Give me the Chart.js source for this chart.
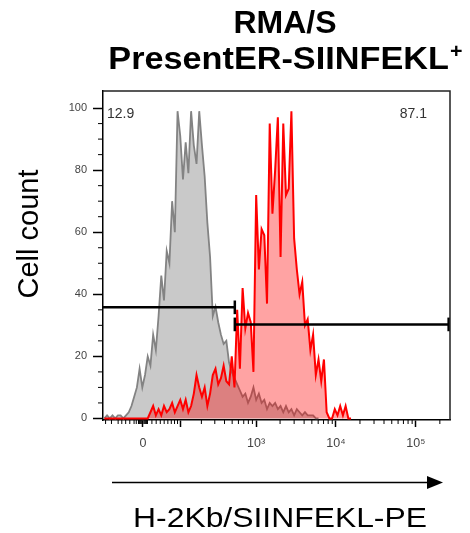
<!DOCTYPE html>
<html>
<head>
<meta charset="utf-8">
<script src="https://cdn.jsdelivr.net/npm/chart.js"></script>
<style>
  html, body { margin: 0; padding: 0; background: #fff; }
  #wrap { width: 470px; height: 533px; }
</style>
</head>
<body>
<div id="wrap"><canvas id="histo" width="470" height="533"></canvas></div>
<script>
// histogram counts per bin (128 bins over 1024 display channels)
const binWidth = 8;
const greyCounts = [
    0, 1, 0, 1, 0, 1, 1, 0, 1, 2,
    4, 7, 10, 16, 10, 14, 20, 17, 27, 22,
    33, 46, 38, 54, 50, 70, 60, 99, 91, 77,
    89, 79, 99, 88, 82, 99, 88, 78, 63, 52,
    33, 36, 31, 27, 24, 25, 18, 15, 13, 11,
    9, 7, 8, 5, 7, 10, 6, 8, 5, 6,
    3, 5, 4, 5, 3, 4, 2, 4, 2, 3,
    1, 3, 2, 1, 2, 1, 1, 1, 0, 0
];
const redCounts = [
    0, 0, 0, 0, 0, 0, 0, 0, 0, 0,
    0, 0, 0, 0, 0, 0, 0, 2, 4, 1,
    3, 1, 4, 2, 3, 5, 2, 4, 6, 3,
    6, 2, 4, 8, 14, 10, 7, 10, 4, 8,
    14, 16, 11, 13, 17, 12, 11, 20, 10, 35,
    16, 42, 29, 34, 31, 15, 72, 48, 61, 59,
    37, 95, 66, 80, 97, 52, 95, 72, 74, 99,
    58, 48, 40, 44, 30, 32, 22, 27, 14, 19,
    12, 19, 2, 0, 0, 3, 1, 4, 1, 4,
    0, 0
];

// gates (display channels) and their percentages
const gateNeg = [0, 389];
const gatePos = [389, 1020];
const gateLevels = [35.8, 30.3];
const gateLabels = ['12.9', '87.1'];

// axis ticks
const xTickValues = [0, 100, 1000, 10000, 100000];
const xTickLabels = ['0', '', '10³', '10⁴', '10⁵'];
const xMinorValues = [-100, -80, -60, -50, -40, -30, -20, -15, -10, -8, -6, -4, -2,
    2, 4, 6, 8, 10, 20, 30, 40, 50, 60, 70, 80, 90,
    200, 300, 400, 500, 600, 700, 800, 900,
    2000, 3000, 4000, 5000, 6000, 7000, 8000, 9000,
    20000, 30000, 40000, 50000, 60000, 70000, 80000, 90000, 200000];
const yTickValues = [0, 20, 40, 60, 80, 100];
const yMinorValues = [5, 10, 15, 25, 30, 35, 45, 50, 55, 65, 70, 75, 85, 90, 95];

const titleLines = ['RMA/S', 'PresentER-SIINFEKL'];
const xTitle = 'H-2Kb/SIINFEKL-PE';
const yTitle = 'Cell count';

const FONT = "'Liberation Sans', Arial, sans-serif";

// biexponential-like display transform
function toChannel(v) {
    return 118 + 102.4 * Math.asinh(v / 77);
}

function toPoints(counts) {
    return counts.map((c, i) => ({ x: i * binWidth + binWidth / 2, y: c }));
}

function gateLine(xs, level) {
    return {
        data: [{ x: xs[0], y: level }, { x: xs[1], y: level }],
        borderColor: '#000', borderWidth: 2.5, pointRadius: 0, fill: false
    };
}

function gateCap(x, level) {
    return {
        data: [{ x: x, y: level - 2.2 }, { x: x, y: level + 2.2 }],
        borderColor: '#000', borderWidth: 2.5, pointRadius: 0, fill: false
    };
}

const extras = {
    id: 'extras',
    afterDraw(chart) {
        const ctx = chart.ctx;
        const area = chart.chartArea;
        const xs = chart.scales.x;
        const ys = chart.scales.y;
        ctx.save();

        // frame top / right
        ctx.strokeStyle = '#222';
        ctx.lineWidth = 1.5;
        ctx.beginPath();
        ctx.moveTo(area.left, area.top);
        ctx.lineTo(area.right, area.top);
        ctx.lineTo(area.right, area.bottom);
        ctx.stroke();

        // minor ticks
        ctx.strokeStyle = '#000';
        ctx.lineWidth = 1;
        ctx.beginPath();
        yMinorValues.forEach(v => {
            const py = ys.getPixelForValue(v);
            ctx.moveTo(area.left - 5, py);
            ctx.lineTo(area.left, py);
        });
        xMinorValues.forEach(v => {
            const px = xs.getPixelForValue(toChannel(v));
            if (px < area.left || px > area.right) return;
            ctx.moveTo(px, area.bottom);
            ctx.lineTo(px, area.bottom + 4);
        });
        ctx.stroke();

        // gate percentages
        ctx.fillStyle = '#333';
        ctx.font = '14px ' + FONT;
        ctx.textBaseline = 'alphabetic';
        ctx.textAlign = 'left';
        ctx.fillText(gateLabels[0], area.left + 4, area.top + 27);
        ctx.textAlign = 'right';
        ctx.fillText(gateLabels[1], area.right - 23, area.top + 27);

        // title
        ctx.fillStyle = '#000';
        ctx.textAlign = 'center';
        ctx.font = 'bold 32px ' + FONT;
        ctx.fillText(titleLines[0], 285, 33);
        const w2 = ctx.measureText(titleLines[1]).width;
        ctx.save();
        ctx.translate(285, 69);
        ctx.scale(1.07, 1);
        ctx.fillText(titleLines[1], -6, 0);
        ctx.font = 'bold 20px ' + FONT;
        ctx.textAlign = 'left';
        ctx.fillText('+', w2 / 2 - 5, -11);
        ctx.restore();

        // x title and arrow
        ctx.save();
        ctx.translate(280, 527);
        ctx.scale(1.18, 1);
        ctx.font = '27px ' + FONT;
        ctx.fillText(xTitle, 0, 0);
        ctx.restore();
        ctx.strokeStyle = '#000';
        ctx.lineWidth = 1.5;
        ctx.beginPath();
        ctx.moveTo(112, 482.5);
        ctx.lineTo(430, 482.5);
        ctx.stroke();
        ctx.beginPath();
        ctx.moveTo(427, 476);
        ctx.lineTo(443, 482.5);
        ctx.lineTo(427, 489);
        ctx.closePath();
        ctx.fill();

        // y title
        ctx.save();
        ctx.translate(38, 234);
        ctx.rotate(-Math.PI / 2);
        ctx.font = '29px ' + FONT;
        ctx.textAlign = 'center';
        ctx.fillText(yTitle, 0, 0);
        ctx.restore();

        ctx.restore();
    }
};

new Chart(document.getElementById('histo'), {
    type: 'line',
    data: {
        datasets: [
            gateLine(gateNeg, gateLevels[0]),
            gateCap(gateNeg[1], gateLevels[0]),
            gateLine(gatePos, gateLevels[1]),
            gateCap(gatePos[0], gateLevels[1]),
            gateCap(gatePos[1], gateLevels[1]),
            {
                label: 'PresentER-SIINFEKL',
                data: toPoints(redCounts),
                borderColor: '#ff0000',
                backgroundColor: 'rgba(255, 0, 0, 0.36)',
                borderWidth: 2,
                pointRadius: 0,
                tension: 0,
                fill: 'origin'
            },
            {
                label: 'control',
                data: toPoints(greyCounts),
                borderColor: '#838383',
                backgroundColor: '#c9c9c9',
                borderWidth: 1.8,
                pointRadius: 0,
                tension: 0,
                fill: 'origin'
            }
        ]
    },
    options: {
        responsive: false,
        animation: false,
        layout: { padding: { top: 91, right: 20, left: 0, bottom: 0 } },
        plugins: { legend: { display: false }, tooltip: { enabled: false } },
        scales: {
            x: {
                type: 'linear',
                min: 0,
                max: 1024,
                border: { color: '#000', width: 1.5 },
                grid: { drawOnChartArea: false, tickLength: 7, tickWidth: 1.5, tickColor: '#000' },
                afterBuildTicks: s => { s.ticks = xTickValues.map(v => ({ value: toChannel(v) })); },
                afterFit: s => { s.height = 113; },
                ticks: {
                    autoSkip: false,
                    maxRotation: 0,
                    padding: 9,
                    color: '#444',
                    font: { size: 12.5, family: FONT },
                    callback: (v, i) => xTickLabels[i]
                }
            },
            y: {
                min: -0.5,
                max: 105.5,
                border: { color: '#000', width: 1.5 },
                grid: { drawOnChartArea: false, tickLength: 10, tickWidth: 1.5, tickColor: '#000' },
                afterBuildTicks: s => { s.ticks = yTickValues.map(v => ({ value: v })); },
                afterFit: s => { s.width = 103; },
                ticks: {
                    padding: 6,
                    color: '#444',
                    font: { size: 11, family: FONT },
                    callback: v => v
                }
            }
        }
    },
    plugins: [extras]
});
</script>
</body>
</html>
